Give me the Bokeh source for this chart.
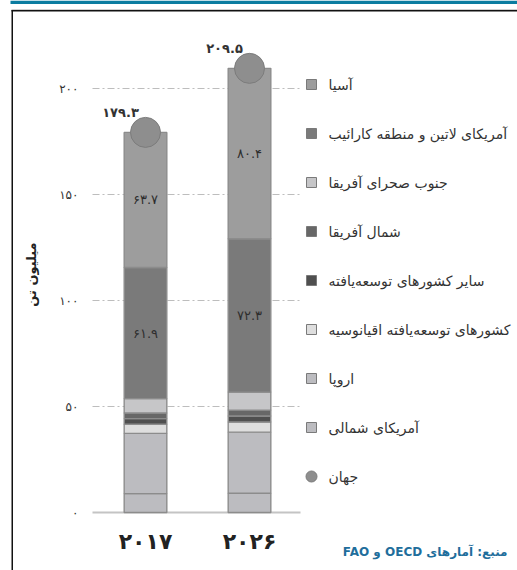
import math
from bokeh.plotting import figure
from bokeh.models import ColumnDataSource, FixedTicker, Label, LinearAxis
from bokeh.core.properties import value
from bokeh.embed import file_html
from bokeh.resources import INLINE

# ---------------- data ----------------
years = ["۲۰۱۷", "۲۰۲۶"]
series_keys = ["namerica", "europe", "oceania", "othdev", "nafrica", "ssa", "latam", "asia"]
series_names = {
    "asia": "آسیا",
    "latam": "آمریکای لاتین و منطقه کارائیب",
    "ssa": "جنوب صحرای آفریقا",
    "nafrica": "شمال آفریقا",
    "othdev": "سایر کشورهای توسعه‌یافته",
    "oceania": "کشورهای توسعه‌یافته اقیانوسیه",
    "europe": "اروپا",
    "namerica": "آمریکای شمالی",
}
world_name = "جهان"
namerica = [8.9, 9.1]
europe = [28.4, 28.8]
oceania = [4.3, 4.8]
othdev = [2.7, 2.8]
nafrica = [2.6, 2.8]
ssa = [6.8, 8.5]
latam = [61.9, 72.3]
asia = [63.7, 80.4]
world = [179.3, 209.5]
y_ticks = [0, 50, 100, 150, 200]
labelled_series = ["latam", "asia"]

colors = {
    "asia": "#9d9d9d",
    "latam": "#7a7a7a",
    "ssa": "#c6c6c8",
    "nafrica": "#676767",
    "othdev": "#4f4f4f",
    "oceania": "#dedede",
    "europe": "#bcbcc0",
    "namerica": "#bcbcc0",
}
world_color = "#8e8e8e"
source_text = "منبع: آمارهای OECD و FAO"
y_label = "میلیون تن"

FONT = "DejaVu Sans"


def fa(s):
    return str(s).translate(str.maketrans("0123456789", "۰۱۲۳۴۵۶۷۸۹"))


def rtl(s):
    # right-to-left embedding so mixed text keeps its Persian order
    return "\u202b" + s + "\u202c"


# ---------------- layout helpers (canvas pixel -> data) ----------------
W, H = 517, 570
BAR_PX = 104.0      # px between bar centres
Y_PX = 2.12         # px per unit
X0_PX = 145.0       # x of first bar centre
Y0_PX = 512.0       # y of value 0


def xd(px):
    return (px - X0_PX) / BAR_PX


def yd(py):
    return (Y0_PX - py) / Y_PX


p = figure(width=W, height=H, output_backend="svg", toolbar_location=None,
           x_range=(xd(0), xd(W)), y_range=(yd(H), yd(0)),
           x_axis_location=None, y_axis_location=None,
           min_border_left=0, min_border_right=0, min_border_top=0, min_border_bottom=0)
p.outline_line_color = None
p.grid.visible = False
p.background_fill_color = "white"
p.border_fill_color = "white"

# page decorations: blue top band and black frame lines
p.quad(left=[xd(10)], right=[xd(W)], top=[yd(0)], bottom=[yd(3.5)],
       fill_color="#0b7ca0", line_color=None)
p.quad(left=[xd(11)], right=[xd(W)], top=[yd(8.5)], bottom=[yd(9.5)],
       fill_color="#cfcfcf", line_color=None)
p.quad(left=[xd(11)], right=[xd(W)], top=[yd(9.5)], bottom=[yd(11)],
       fill_color="#111111", line_color=None)
p.quad(left=[xd(11)], right=[xd(12.5)], top=[yd(9.5)], bottom=[yd(H)],
       fill_color="#111111", line_color=None)

# gridlines (dash-dot) and baseline
x_frame = xd(92)
grid_end = xd(300)
gy = [t for t in y_ticks if t > 0]
p.segment(x0=[x_frame] * len(gy), x1=[grid_end] * len(gy), y0=gy, y1=gy,
          line_color="#bdbdbd", line_width=1, line_dash="7 3 2 3")
p.segment(x0=[x_frame], x1=[grid_end], y0=[0], y1=[0], line_color="#c4c4c4", line_width=2)

# stacked bars
idx = list(range(len(years)))
data = dict(x=idx, namerica=namerica, europe=europe, oceania=oceania, othdev=othdev,
            nafrica=nafrica, ssa=ssa, latam=latam, asia=asia)
src = ColumnDataSource(data)
p.vbar_stack(series_keys, x="x", width=0.41, source=src,
             color=[colors[k] for k in series_keys],
             line_color="#8c8c8c", line_width=1.4)

# band labels
cum = [0.0] * len(years)
for k in series_keys:
    vals = data[k]
    if k in labelled_series:
        mids = [c + v / 2 for c, v in zip(cum, vals)]
        p.text(x=idx, y=mids, text=[fa(v) for v in vals], text_align="center",
               text_baseline="middle", text_font=value(FONT), text_font_size="13px",
               text_color="#2e2e2e")
    cum = [c + v for c, v in zip(cum, vals)]

# world circles and labels
p.scatter(x=idx, y=world, size=30, marker="circle", fill_color=world_color,
          line_color="#7c7c7c", line_width=1)
p.text(x=idx, y=world, text=[fa(v) for v in world], x_offset=-25, y_offset=-20,
       text_align="center", text_baseline="middle", text_font=value(FONT),
       text_font_size="13px", text_font_style="bold", text_color="#333333")

# manual right-to-left legend
legend_keys = list(reversed(series_keys))
rows = [84 + 49 * i for i in range(len(legend_keys) + 1)]
sw_x = xd(311)
tx_x = xd(328)
p.scatter(x=[sw_x] * len(legend_keys), y=[yd(r) for r in rows[:-1]], marker="square",
          size=10, fill_color=[colors[k] for k in legend_keys], line_color="#7a7a7a",
          line_width=1)
p.scatter(x=[sw_x], y=[yd(rows[-1])], marker="circle", size=11, fill_color=world_color,
          line_color="#7c7c7c")
p.text(x=[tx_x] * (len(legend_keys) + 1), y=[yd(r) for r in rows],
       text=[series_names[k] for k in legend_keys] + [world_name],
       text_align="left", text_baseline="middle", text_font=value(FONT),
       text_font_size="14px", text_color="#333333")

# axes at fixed locations inside the full-canvas frame
yax = LinearAxis(fixed_location=x_frame)
yax.ticker = FixedTicker(ticks=y_ticks)
yax.major_label_overrides = {t: fa(t) for t in y_ticks}
yax.axis_line_color = None
yax.major_tick_line_color = None
yax.minor_tick_line_color = None
yax.major_tick_out = 0
yax.major_tick_in = 0
yax.major_label_standoff = 14
yax.major_label_text_font = FONT
yax.major_label_text_font_size = "12px"
yax.major_label_text_color = "#333333"
p.add_layout(yax, "left")

xax = LinearAxis(fixed_location=0)
xax.ticker = FixedTicker(ticks=idx)
xax.major_label_overrides = {i: y for i, y in zip(idx, years)}
xax.axis_line_color = None
xax.major_tick_line_color = None
xax.minor_tick_line_color = None
xax.major_tick_out = 0
xax.major_tick_in = 0
xax.major_label_standoff = 16
xax.major_label_text_font = FONT
xax.major_label_text_font_size = "22px"
xax.major_label_text_font_style = "bold"
xax.major_label_text_color = "#222222"
p.add_layout(xax, "below")

# y-axis title
p.add_layout(Label(x=xd(31), y=yd(274), text=y_label, angle=math.pi / 2,
                   text_align="center", text_baseline="middle", text_font=FONT,
                   text_font_size="13px", text_font_style="bold", text_color="#222222"))

# source
p.add_layout(Label(x=xd(507), y=yd(551), text=rtl(source_text), text_align="right",
                   text_baseline="middle", text_font=FONT, text_font_size="12px",
                   text_font_style="bold", text_color="#1f6e9c"))

open("out.html", "w").write(file_html(p, INLINE))
